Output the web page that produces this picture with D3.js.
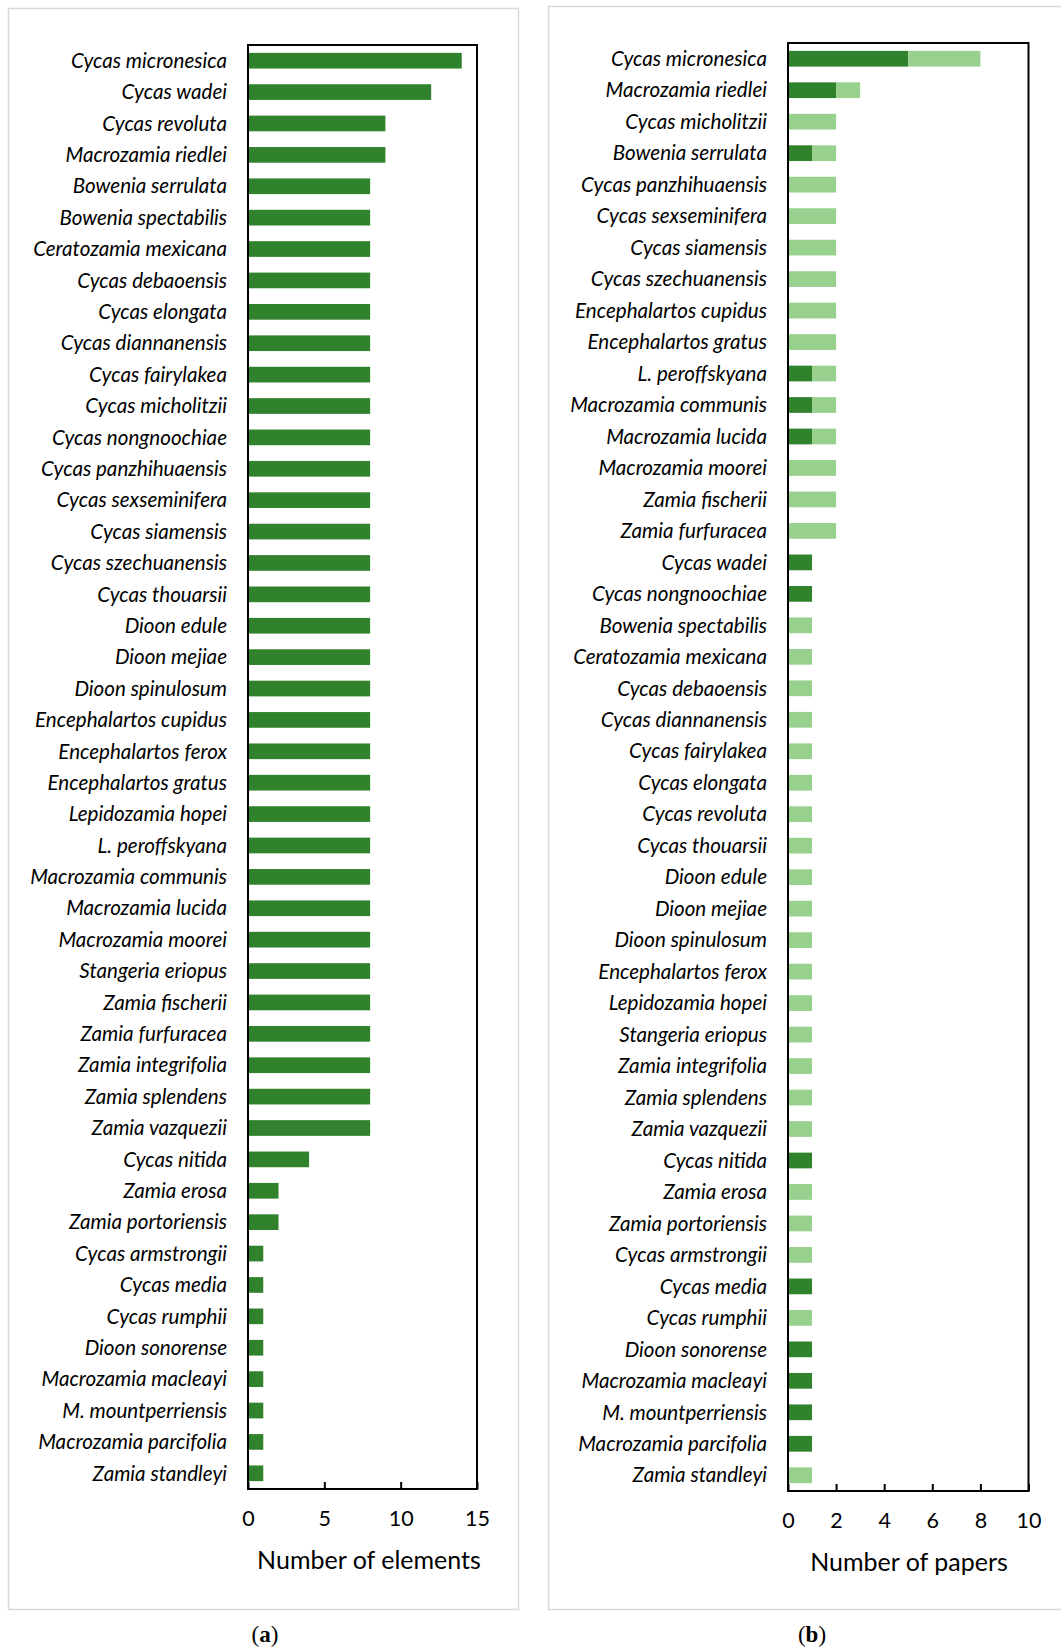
<!DOCTYPE html>
<html>
<head>
<meta charset="utf-8">
<script src="https://cdn.jsdelivr.net/npm/d3@7"></script>
<style>
body { margin: 0; background: #fff; }
</style>
</head>
<body>
<svg width="1061" height="1648"></svg>
<script>
// panel (a): number of elements per species
var speciesA = ["Cycas micronesica", "Cycas wadei", "Cycas revoluta", "Macrozamia riedlei",
 "Bowenia serrulata", "Bowenia spectabilis", "Ceratozamia mexicana", "Cycas debaoensis",
 "Cycas elongata", "Cycas diannanensis", "Cycas fairylakea", "Cycas micholitzii",
 "Cycas nongnoochiae", "Cycas panzhihuaensis", "Cycas sexseminifera", "Cycas siamensis",
 "Cycas szechuanensis", "Cycas thouarsii", "Dioon edule", "Dioon mejiae", "Dioon spinulosum",
 "Encephalartos cupidus", "Encephalartos ferox", "Encephalartos gratus", "Lepidozamia hopei",
 "L. peroffskyana", "Macrozamia communis", "Macrozamia lucida", "Macrozamia moorei",
 "Stangeria eriopus", "Zamia fischerii", "Zamia furfuracea", "Zamia integrifolia",
 "Zamia splendens", "Zamia vazquezii", "Cycas nitida", "Zamia erosa", "Zamia portoriensis",
 "Cycas armstrongii", "Cycas media", "Cycas rumphii", "Dioon sonorense", "Macrozamia macleayi",
 "M. mountperriensis", "Macrozamia parcifolia", "Zamia standleyi"];
var elements = [14, 12, 9, 9, 8, 8, 8, 8, 8, 8, 8, 8, 8, 8, 8, 8, 8, 8, 8, 8, 8, 8, 8, 8, 8,
 8, 8, 8, 8, 8, 8, 8, 8, 8, 8, 4, 2, 2, 1, 1, 1, 1, 1, 1, 1, 1];
var ticksA = [0, 5, 10, 15];

// panel (b): number of papers per species (two series, stacked)
var speciesB = ["Cycas micronesica", "Macrozamia riedlei", "Cycas micholitzii", "Bowenia serrulata",
 "Cycas panzhihuaensis", "Cycas sexseminifera", "Cycas siamensis", "Cycas szechuanensis",
 "Encephalartos cupidus", "Encephalartos gratus", "L. peroffskyana", "Macrozamia communis",
 "Macrozamia lucida", "Macrozamia moorei", "Zamia fischerii", "Zamia furfuracea", "Cycas wadei",
 "Cycas nongnoochiae", "Bowenia spectabilis", "Ceratozamia mexicana", "Cycas debaoensis",
 "Cycas diannanensis", "Cycas fairylakea", "Cycas elongata", "Cycas revoluta", "Cycas thouarsii",
 "Dioon edule", "Dioon mejiae", "Dioon spinulosum", "Encephalartos ferox", "Lepidozamia hopei",
 "Stangeria eriopus", "Zamia integrifolia", "Zamia splendens", "Zamia vazquezii", "Cycas nitida",
 "Zamia erosa", "Zamia portoriensis", "Cycas armstrongii", "Cycas media", "Cycas rumphii",
 "Dioon sonorense", "Macrozamia macleayi", "M. mountperriensis", "Macrozamia parcifolia",
 "Zamia standleyi"];
var papersDark = [5, 2, 0, 1, 0, 0, 0, 0, 0, 0, 1, 1, 1, 0, 0, 0, 1, 1, 0, 0, 0, 0, 0, 0, 0,
 0, 0, 0, 0, 0, 0, 0, 0, 0, 0, 1, 0, 0, 0, 1, 0, 1, 1, 1, 1, 0];
var papersLight = [3, 1, 2, 1, 2, 2, 2, 2, 2, 2, 1, 1, 1, 2, 2, 2, 0, 0, 1, 1, 1, 1, 1, 1, 1,
 1, 1, 1, 1, 1, 1, 1, 1, 1, 1, 0, 1, 1, 1, 0, 1, 0, 0, 0, 0, 1];
var ticksB = [0, 2, 4, 6, 8, 10];

var dark = "#31822d", light = "#98d18e";
var labelFont = "Lato, 'Open Sans', sans-serif";

var svg = d3.select("svg");

// light grey frames round each panel
svg.append("rect").attr("x", 8.5).attr("y", 8.5).attr("width", 510).attr("height", 1601)
 .attr("fill", "none").attr("stroke", "#d9d9d9").attr("stroke-width", 1.5);
svg.append("rect").attr("x", 548.5).attr("y", 6.5).attr("width", 540).attr("height", 1603)
 .attr("fill", "none").attr("stroke", "#d9d9d9").attr("stroke-width", 1.5);

function drawPanel(opt) {
 var g = svg.append("g");
 var x = d3.scaleLinear().domain(opt.domain).range([opt.left, opt.right]);
 var y = d3.scaleBand().domain(opt.cats).range([opt.top, opt.bottom]).paddingInner(0.5).paddingOuter(0.25);

 var stack = d3.stack().keys(opt.keys)(opt.rows);
 g.selectAll("g.series").data(stack).enter().append("g")
  .attr("fill", function (s) { return opt.colors[s.key] })
  .selectAll("rect").data(function (s) { return s }).enter().append("rect")
  .attr("x", function (d) { return x(d[0]) })
  .attr("y", function (d) { return y(d.data.name) })
  .attr("width", function (d) { return x(d[1]) - x(d[0]) })
  .attr("height", y.bandwidth());

 // category labels
 g.selectAll("text.cat").data(opt.cats).enter().append("text")
  .attr("class", "cat")
  .attr("x", opt.left - 21)
  .attr("y", function (d) { return y(d) + y.bandwidth() / 2 })
  .attr("dy", "0.35em")
  .attr("text-anchor", "end")
  .attr("font-family", labelFont)
  .attr("font-style", "italic")
  .attr("font-size", 20.6)
  .attr("fill", "#000")
  .text(function (d) { return d });

 // x axis, ticks pointing into the plot
 var axis = g.append("g").attr("transform", "translate(0," + opt.bottom + ")")
  .call(d3.axisBottom(x).tickValues(opt.ticks).tickSize(-7).tickPadding(opt.pad).tickFormat(d3.format("d")));
 axis.select(".domain").remove();
 axis.selectAll("line").attr("stroke", "#000").attr("stroke-width", 2);
 axis.selectAll("text").attr("font-family", labelFont).attr("font-size", 21.5).attr("fill", "#000");

 g.append("rect").attr("x", opt.left).attr("y", opt.top)
  .attr("width", opt.right - opt.left).attr("height", opt.bottom - opt.top)
  .attr("fill", "none").attr("stroke", "#000").attr("stroke-width", 2);

 g.append("text").attr("x", opt.titleX).attr("y", opt.titleY)
  .attr("text-anchor", "middle").attr("dy", "0.35em")
  .attr("font-family", labelFont).attr("font-size", 25).attr("fill", "#000")
  .text(opt.title);

 var cap = g.append("text").attr("x", opt.capX).attr("y", 1642)
  .attr("text-anchor", "middle").attr("font-family", "'Liberation Serif', serif")
  .attr("font-size", 23).attr("fill", "#000");
 cap.append("tspan").text("(");
 cap.append("tspan").attr("font-weight", "bold").text(opt.cap);
 cap.append("tspan").text(")");
}

drawPanel({
 cats: speciesA,
 rows: speciesA.map(function (n, i) { return { name: n, v: elements[i] } }),
 keys: ["v"], colors: { v: dark },
 domain: [0, 15], ticks: ticksA,
 left: 248, right: 477, top: 45, bottom: 1489, pad: 22,
 title: "Number of elements", titleX: 369, titleY: 1560,
 cap: "a", capX: 265
});

drawPanel({
 cats: speciesB,
 rows: speciesB.map(function (n, i) { return { name: n, d: papersDark[i], l: papersLight[i] } }),
 keys: ["d", "l"], colors: { d: dark, l: light },
 domain: [0, 10], ticks: ticksB,
 left: 788, right: 1028.5, top: 43, bottom: 1491, pad: 22,
 title: "Number of papers", titleX: 909, titleY: 1562,
 cap: "b", capX: 812
});
</script>
</body>
</html>
